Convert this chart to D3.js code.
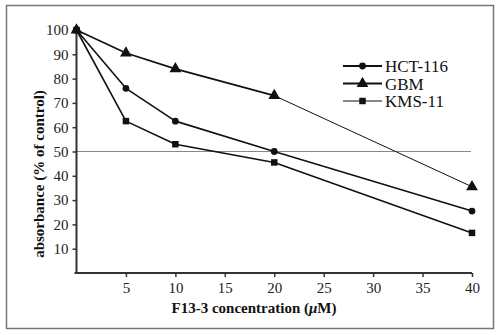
<!DOCTYPE html>
<html><head><meta charset="utf-8">
<script src="https://cdn.jsdelivr.net/npm/d3@7"></script>
</head><body>
<svg id="c" width="500" height="335"></svg>
<script>
const concentrations = [0, 5, 10, 20, 40];
const hct116 = [100, 76, 62.5, 50, 25.5];
const gbm = [100, 90.5, 84, 73, 35.5];
const kms11 = [100, 62.5, 53, 45.5, 16.5];
const seriesNames = ["HCT-116", "GBM", "KMS-11"];
const xTicks = [5, 10, 15, 20, 25, 30, 35, 40];
const yTicks = [10, 20, 30, 40, 50, 60, 70, 80, 90, 100];
const refLine = 50;

const FONT = "Liberation Serif";
d3.select("body").style("margin", "0px");
const svg = d3.select("#c").style("display", "block");
svg.append("rect").attr("x", 6.5).attr("y", 5.5).attr("width", 487).attr("height", 323)
  .attr("fill", "#fff").attr("stroke", "#777").attr("stroke-width", 1.5);

const x = d3.scaleLinear().domain([0, 40]).range([76.5, 472]);
const y = d3.scaleLinear().domain([0, 100]).range([273, 30]);

// reference line
svg.append("line").attr("x1", x(0)).attr("x2", 471).attr("y1", y(refLine)).attr("y2", y(refLine))
  .attr("stroke", "#888").attr("stroke-width", 1);

// axes
const xAxis = svg.append("g").attr("transform", `translate(0,${y(0)})`)
  .call(d3.axisBottom(x).tickValues(xTicks).tickSize(4).tickPadding(5).tickSizeOuter(0));
const yAxis = svg.append("g").attr("transform", `translate(${x(0)},0)`)
  .call(d3.axisLeft(y).tickValues(yTicks).tickSize(4).tickPadding(4).tickSizeOuter(0));
[xAxis, yAxis].forEach(g => {
  g.attr("font-family", FONT).attr("font-size", 15);
  g.select(".domain").attr("stroke", "#333").attr("stroke-width", 2);
  g.selectAll(".tick line").attr("stroke", "#333").attr("stroke-width", 1.5);
  g.selectAll(".tick text").attr("font-family", FONT).attr("font-size", 15).attr("fill", "#222");
});
xAxis.select(".domain").attr("d", `M${x(0)-2},0H${x(40)}`);
yAxis.select(".domain").attr("d", `M0,${y(0)+1}V${y(100)}`);

// series
const data = [
  {name: seriesNames[0], vals: hct116, sym: d3.symbolCircle, size: 36, widths: [1.6, 1.6, 1.6, 1.6]},
  {name: seriesNames[1], vals: gbm, sym: d3.symbolTriangle, size: 60, widths: [1.6, 1.6, 1.6, 1.0]},
  {name: seriesNames[2], vals: kms11, sym: d3.symbolSquare, size: 42, widths: [1.6, 1.6, 1.6, 1.6]}
];
data.forEach(s => {
  const pts = concentrations.map((c, i) => [x(c), y(s.vals[i])]);
  for (let i = 0; i < pts.length - 1; i++) {
    svg.append("line").attr("x1", pts[i][0]).attr("y1", pts[i][1])
      .attr("x2", pts[i+1][0]).attr("y2", pts[i+1][1])
      .attr("stroke", "#111").attr("stroke-width", s.widths[i]);
  }
  svg.selectAll(null).data(pts).join("path")
    .attr("transform", d => `translate(${d[0]},${d[1]})`)
    .attr("d", d3.symbol().type(s.sym).size(s.size)).attr("fill", "#111");
});

// legend
const leg = svg.append("g");
const legY = [66, 83.5, 101];
const legW = [1.8, 1.8, 1.0];
data.forEach((s, i) => {
  leg.append("line").attr("x1", 343).attr("x2", 382).attr("y1", legY[i]).attr("y2", legY[i])
    .attr("stroke", "#111").attr("stroke-width", legW[i]);
  leg.append("path").attr("transform", `translate(362.5,${legY[i]})`)
    .attr("d", d3.symbol().type(s.sym).size(s.size)).attr("fill", "#111");
  leg.append("text").attr("x", 385).attr("y", legY[i] + 6).text(s.name)
    .attr("font-family", FONT).attr("font-size", 17).attr("fill", "#111");
});

// titles
const xt = svg.append("text").attr("x", 254).attr("y", 313).attr("text-anchor", "middle")
  .attr("font-family", FONT).attr("font-size", 15).attr("font-weight", "bold").attr("fill", "#111");
xt.append("tspan").text("F13-3 concentration (");
xt.append("tspan").attr("font-style", "italic").text("\u03bc");
xt.append("tspan").text("M)");
svg.append("text").attr("transform", "translate(44,174) rotate(-90)").attr("text-anchor", "middle")
  .attr("font-family", FONT).attr("font-size", 15).attr("font-weight", "bold").attr("fill", "#111")
  .text("absorbance (% of control)");
</script>
</body></html>
